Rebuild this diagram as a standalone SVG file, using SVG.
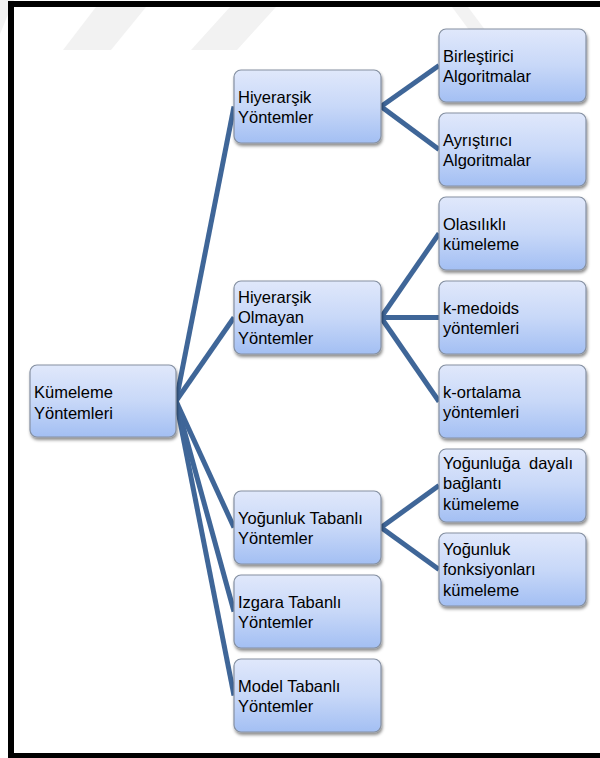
<svg xmlns="http://www.w3.org/2000/svg" width="600" height="758" viewBox="0 0 600 758">
<defs>
<linearGradient id="g" x1="0" y1="0" x2="0" y2="1">
<stop offset="0" stop-color="#e0e8fb"/>
<stop offset="0.5" stop-color="#c8d8f8"/>
<stop offset="1" stop-color="#a3bff3"/>
</linearGradient>
<filter id="sh" x="-10%" y="-10%" width="125%" height="130%">
<feDropShadow dx="1" dy="2.5" stdDeviation="1.8" flood-color="#000" flood-opacity="0.45"/>
</filter>
</defs>
<style>
.box{fill:url(#g);stroke:#8590a2;stroke-width:1.2;filter:url(#sh)}
text{font-family:"Liberation Sans",Arial,sans-serif;font-size:16.5px;fill:#000}
.c line{stroke:#3f6698;stroke-width:5;stroke-linecap:butt}
.wm{fill:#f2f2f2}
</style>
<rect width="600" height="758" fill="#fff"/>
<g id="watermark">
<polygon class="wm" points="0,0 14,0 0,34"/>
<polygon class="wm" points="96,7 146,7 111,50 63,50"/>
<polygon class="wm" points="230,7 276,7 237,50 191,50"/>
<polygon class="wm" points="452,7 468,7 500,50 484,50"/>
</g>
<rect x="11" y="4" width="600" height="752" fill="none" stroke="#000" stroke-width="6"/>
<g class="c" id="connectors">
<line x1="176" y1="401" x2="234" y2="106.5"/>
<line x1="176" y1="401" x2="234" y2="317.5"/>
<line x1="176" y1="401" x2="234" y2="527.5"/>
<line x1="176" y1="401" x2="234" y2="611.5"/>
<line x1="176" y1="401" x2="234" y2="695.5"/>
<line x1="381" y1="106.5" x2="439" y2="65.5"/>
<line x1="381" y1="106.5" x2="439" y2="149.5"/>
<line x1="381" y1="317.5" x2="439" y2="233.5"/>
<line x1="381" y1="317.5" x2="439" y2="317.5"/>
<line x1="381" y1="317.5" x2="439" y2="401.5"/>
<line x1="381" y1="527.5" x2="439" y2="485.5"/>
<line x1="381" y1="527.5" x2="439" y2="569.5"/>
</g>
<g id="root"><rect class="box" x="30" y="365" width="146" height="72" rx="7"/><text x="34"><tspan x="34" y="398">Kümeleme</tspan><tspan x="34" y="418.5">Yöntemleri</tspan></text></g>
<g id="hiyerarsik"><rect class="box" x="234" y="70" width="147" height="73" rx="7"/><text><tspan x="238" y="102.5">Hiyerarşik</tspan><tspan x="238" y="123">Yöntemler</tspan></text></g>
<g id="olmayan"><rect class="box" x="234" y="281" width="147" height="73" rx="7"/><text><tspan x="238" y="302.5">Hiyerarşik</tspan><tspan x="238" y="323">Olmayan</tspan><tspan x="238" y="343.5">Yöntemler</tspan></text></g>
<g id="yogunluk"><rect class="box" x="234" y="491" width="147" height="73" rx="7"/><text><tspan x="238" y="523.5">Yoğunluk Tabanlı</tspan><tspan x="238" y="544">Yöntemler</tspan></text></g>
<g id="izgara"><rect class="box" x="234" y="575" width="147" height="73" rx="7"/><text><tspan x="238" y="607.5">Izgara Tabanlı</tspan><tspan x="238" y="628">Yöntemler</tspan></text></g>
<g id="model"><rect class="box" x="234" y="659" width="147" height="73" rx="7"/><text><tspan x="238" y="691.5">Model Tabanlı</tspan><tspan x="238" y="712">Yöntemler</tspan></text></g>
<g id="birlestirici"><rect class="box" x="439" y="29" width="147" height="73" rx="7"/><text><tspan x="443" y="61.5">Birleştirici</tspan><tspan x="443" y="82">Algoritmalar</tspan></text></g>
<g id="ayristirici"><rect class="box" x="439" y="113" width="147" height="73" rx="7"/><text><tspan x="443" y="145.5">Ayrıştırıcı</tspan><tspan x="443" y="166">Algoritmalar</tspan></text></g>
<g id="olasilikli"><rect class="box" x="439" y="197" width="147" height="73" rx="7"/><text><tspan x="443" y="229.5">Olasılıklı</tspan><tspan x="443" y="250">kümeleme</tspan></text></g>
<g id="kmedoids"><rect class="box" x="439" y="281" width="147" height="73" rx="7"/><text><tspan x="443" y="313.5">k-medoids</tspan><tspan x="443" y="334">yöntemleri</tspan></text></g>
<g id="kortalama"><rect class="box" x="439" y="365" width="147" height="73" rx="7"/><text><tspan x="443" y="397.5">k-ortalama</tspan><tspan x="443" y="418">yöntemleri</tspan></text></g>
<g id="yogunluga"><rect class="box" x="439" y="449" width="147" height="73" rx="7"/><text><tspan x="443" y="468.5" word-spacing="4">Yoğunluğa dayalı</tspan><tspan x="443" y="489">bağlantı</tspan><tspan x="443" y="509.5">kümeleme</tspan></text></g>
<g id="fonksiyon"><rect class="box" x="439" y="533" width="147" height="73" rx="7"/><text><tspan x="443" y="554.5">Yoğunluk</tspan><tspan x="443" y="575">fonksiyonları</tspan><tspan x="443" y="595.5">kümeleme</tspan></text></g>
</svg>
